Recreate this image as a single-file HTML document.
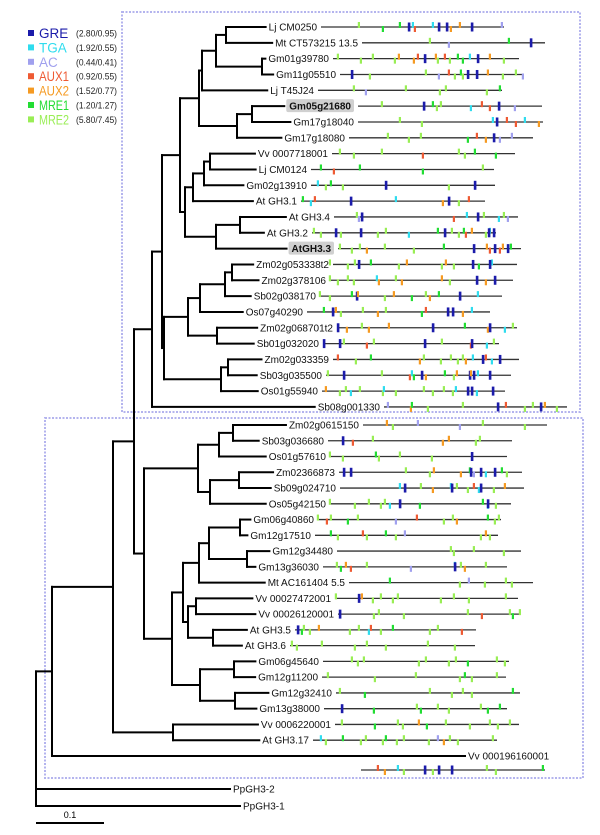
<!DOCTYPE html>
<html><head><meta charset="utf-8">
<style>
html,body{margin:0;padding:0;background:#fff;}
svg{display:block;font-family:"Liberation Sans",sans-serif;}
</style></head>
<body>
<svg id="fig" width="600" height="835" viewBox="0 0 600 835" xmlns="http://www.w3.org/2000/svg">
  <rect x="122" y="12" width="458" height="400" fill="none" stroke="#b4b4ee" stroke-width="2" stroke-dasharray="2,1.5"/>
  <rect x="45" y="418" width="538" height="360" fill="none" stroke="#b4b4ee" stroke-width="2" stroke-dasharray="2,1.5"/>
  <g id="legend"></g>
  <g id="tree"></g>
  <g id="genes"></g>
  <g id="labels"></g>
  <line x1="36" y1="823" x2="104" y2="823" stroke="#000" stroke-width="2"/>
  <text x="70" y="818" font-size="9" text-anchor="middle">0.1</text>
</svg>
<script>
const motifNames = ["GRE","TGA","AC","AUX1","AUX2","MRE1","MRE2"];
const motifKeys = ["G","T","A","X1","X2","M1","M2"];
const motifColors = ["#1b1baa","#2fdcee","#a0a0ee","#ee5a33","#f59a22","#22dd33","#99ee55"];
const motifStats = ["(2.80/0.95)","(1.92/0.55)","(0.44/0.41)","(0.92/0.55)","(1.52/0.77)","(1.20/1.27)","(5.80/7.45)"];

const leafNames = ["Lj CM0250","Mt CT573215 13.5","Gm01g39780","Gm11g05510","Lj T45J24","Gm05g21680","Gm17g18040","Gm17g18080","Vv 0007718001","Lj CM0124","Gm02g13910","At GH3.1","At GH3.4","At GH3.2","AtGH3.3","Zm02g053338t2","Zm02g378106","Sb02g038170","Os07g40290","Zm02g068701t2","Sb01g032020","Zm02g033359","Sb03g035500","Os01g55940","Sb08g001330",
"Zm02g0615150","Sb03g036680","Os01g57610","Zm02366873","Sb09g024710","Os05g42150","Gm06g40860","Gm12g17510","Gm12g34480","Gm13g36030","Mt AC161404 5.5","Vv 00027472001","Vv 00026120001","At GH3.5","At GH3.6","Gm06g45640","Gm12g11200","Gm12g32410","Gm13g38000","Vv 0006220001","At GH3.17","Vv 000196160001","PpGH3-2","PpGH3-1"];
const highlighted = [5,14];
const tipX = [270,280,270,276,274,288,288,288,262,258,248,255,285,262,262,258,264,255,254,254,252,265,260,256,318,
286,265,265,282,278,268,252,250,277,263,274,262,264,250,245,260,260,270,262,260,268,465,230,240];
const geneStart = [321,362,333,340,318,358,358,349,332,311,311,301,334,312,338,333,330,320,307,337,323,333,326,322,384,
363,328,330,339,340,330,318,315,337,323,349,335,338,295,290,323,322,336,324,335,313,361];
const geneEnd = [504,545,519,522,502,542,543,533,515,494,495,485,518,496,521,517,513,502,490,517,499,519,511,505,567,
547,512,507,522,524,511,501,498,521,507,533,518,520,476,475,509,506,520,507,519,497,545];
const motifs = [
"M2:359 M1:383 M1:400 G:409 T:413 X1:415 T:433 G:439 G:447 X2:451 X2:460 G:472 A:502",
"M2:430 A:449 M1:509 G:531",
"M2:338 M2:361 M2:373 M2:395 X2:399 X2:414 X1:418 G:425 X2:436 M2:438 X1:445 M2:450 M1:458 M1:463 T:470 G:478 X2:490 M2:504",
"G:352 M2:370 M2:426 A:439 X1:449 M2:455 M1:461 M2:463 G:468 G:477 X2:488 M2:503 M2:516 A:523",
"M2:354 A:366 M2:406 M2:440 M2:446 M2:487 M1:500",
"M2:382 G:424 M1:433 M2:437 M2:441 T:471 X1:482 X1:490 G:499 A:515",
"M2:400 M2:422 T:493 G:497 X1:507 X1:516 T:525 X2:539",
"M2:388 M2:409 M2:421 M1:468 X1:477 X2:486 G:494 A:500 A:512",
"M2:340 M2:354 M2:382 X1:423 M2:459 M2:465 M1:475 M1:496",
"M1:321 X1:334 M1:360 M1:423 M2:483",
"T:318 M2:326 M1:331 M2:343 G:386 M2:449 G:475",
"M1:303 T:311 X1:315 G:351 T:396 X2:443 G:449 M2:459 X1:469",
"M2:357 A:359 G:362 X1:454 T:467 G:478 M2:484 T:499 M2:504 A:508",
"M2:314 M2:321 G:336 M2:341 G:361 M2:378 M2:386 T:409 M1:438 G:445 M2:452 M2:459 M1:464 X1:466 X2:472 M2:486 T:490 G:489 G:494",
"M2:340 M2:352 M2:360 X2:367 M2:385 M2:414 M1:444 G:474 X2:487 X1:490 G:495 X1:500 X2:503 G:508 M1:511",
"M2:330 M2:348 M2:355 G:359 M1:371 M2:399 X2:407 M2:442 X2:446 M2:454 G:473 M1:479 T:492 G:490",
"M2:330 M2:338 M2:348 M2:354 T:377 X2:379 M2:396 X2:402 X2:442 M2:450 G:477 X2:486 G:495",
"M2:320 M2:330 M1:352 G:357 X2:358 M2:385 X2:394 M1:412 M2:426 X2:430 M1:439 G:460 T:478",
"M1:324 G:333 X2:336 M2:341 M2:363 X2:378 M2:386 M1:422 X1:426 G:448 G:453 X2:463 T:472",
"G:338 X2:347 M2:362 X2:369 X2:389 G:433 M1:465 X2:488 G:490 T:505 M2:513",
"G:324 G:340 M2:344 X1:367 M2:374 G:425 M2:442 X1:471 G:472 T:487 M2:494",
"X1:338 M2:356 M1:371 X2:420 M2:424 M2:441 M2:451 M2:458 M2:463 X2:466 T:473 G:483 X1:486 T:492 G:500",
"M2:328 G:344 M2:382 X1:410 T:412 M1:414 G:422 X2:426 M1:445 M2:454 X2:457 G:470 X2:471 G:474 T:478 G:490",
"X2:326 M2:340 M2:346 T:351 M2:360 M2:383 T:384 M2:396 M2:424 M2:433 M2:444 M2:453 T:456 G:468 G:472 T:477 G:493",
"A:388 X2:411 M1:412 M2:428 M2:463 G:498 X1:506 M2:525 M2:533 G:541 X2:545 M2:557",
"X2:387 M2:393 A:418 A:460 M2:483 M2:525",
"G:343 X1:353 M2:373 X2:443 X2:449 M2:476 M2:480",
"M2:330 M2:343 M1:376 M2:379 M2:400 M2:432 G:472",
"G:344 G:351 M2:406 M2:430 X2:434 X2:461 M1:470 A:474 G:471 T:486 G:481 G:495 M1:502 M2:507",
"T:400 G:405 M2:421 X2:433 T:451 G:452 M2:457 M2:468 X1:474 T:479 G:481 M2:494 X2:505",
"M2:330 M2:355 M2:369 M2:381 M2:385 T:390 G:400 M1:420 M1:483 T:488 G:488 M2:496",
"M2:318 X1:327 M2:331 M1:348 M2:358 A:396 X1:417 M2:444 M2:453 X2:457 M1:488 M2:495 M2:499",
"M1:331 M2:338 X1:363 M2:367 M1:386 M2:396 A:405 M2:481 X2:486 M2:490",
"M2:451 M2:454 M2:474 M2:504",
"M2:337 M1:341 X2:346 X1:351 M2:367 A:411 T:455 G:455 M2:461 X2:465 M2:486",
"M1:390 M2:460 A:469 M2:485 M2:506 M2:512",
"M2:336 G:359 X2:362 M2:373 M2:381 M2:393 M2:398 M2:441 M2:454 M2:469 M2:506",
"G:340 M2:374 M2:379 M2:404 M2:468 X1:482 M2:510 M1:513 M2:520",
"G:298 M1:302 M2:304 M2:310 X2:319 M2:350 M2:359 T:369 X1:371 M2:381 M1:393 M2:430 M2:438 X1:462",
"M2:292 M2:297 M2:322 M2:355 M2:367 M2:386 M2:428 M2:455",
"M2:352 M2:358 M2:364 M2:419 M2:426 M2:449 M2:456 M1:468 M2:497 M2:505",
"M2:328 M2:375 M2:416 M2:460 M1:465 M2:472 M2:497",
"M2:340 M1:365 M2:430 M2:452 M2:463 M2:472 M1:513",
"G:342 M1:374 M2:417 M1:421 M2:438 M2:449 M2:481 M1:488 M1:500",
"M2:342 M1:375 M2:398 M2:403 X2:419 M1:427 M2:446 M2:470 M2:490 M2:498 M2:510",
"T:321 M2:326 M1:343 M2:361 M2:366 M2:383 M1:386 M2:397 M2:404 M2:429 A:438 X2:444 M2:450 M2:458 M2:493",
"X1:378 X2:385 T:398 M2:404 G:425 M2:433 G:439 G:452 M2:487 M2:496 M1:543"
];
const tree = [36,
  [52,
    [113,
      [134,
        [152,
          [162,
            [180,
              [199, [202, [216, [226,0,1], [262,2,3]], 4], [237, [252,5,6], 7]],
              [185, [193, [204, [210,8,9], 10], 11], [216, [240,12,13], 14]]
            ],
            [164,
              [188, [200, [225, [232,15,16], 17], 18], [217,19,20]],
              [221, [228,21,22], 23]
            ]
          ],
          24
        ],
        [144,
          [198, [219, [233,25,26], 27], [210, [239,28,29], 30]],
          [172,
            [183,
              [199, [209, [240,31,32], [247,33,34]], 35],
              [188, [196,36,37], [213,38,39]]
            ],
            [200, [234,40,41], [235,42,43]]
          ]
        ]
      ],
      [173,44,45]
    ],
    46
  ],
  47, 48
];

const NS = "http://www.w3.org/2000/svg";
function mk(tag, attrs, parent){ const e=document.createElementNS(NS,tag); for(const k in attrs) e.setAttribute(k,attrs[k]); parent.appendChild(e); return e; }
function leafY(i){ if(i<=24) return 27+15.83*i; if(i<=46) return 425+15.76*(i-25); return i===47?789:806; }

const lg = document.getElementById('legend');
motifNames.forEach((n,i)=>{
  const y = 33 + 14.4*i;
  const sq = mk('rect',{x:28,y:y-3,width:6,height:6,fill:motifColors[i]},lg);
  
  
  const attrs = {x:39,y:y+5,'font-size':'13.5',fill:motifColors[i]};
  if(n.length>=4){ attrs.textLength = 30; attrs.lengthAdjust = 'spacingAndGlyphs'; }
  const t = mk('text',attrs,lg);
  t.textContent = n;
  
  
  const s = mk('text',{x:76,y:y+3.5,'font-size':'9',fill:'#222',textLength:41,lengthAdjust:'spacingAndGlyphs'},lg);
  s.textContent = motifStats[i];
  
  
});

const lb = document.getElementById('labels');
const labelStart = [];
leafNames.forEach((n,i)=>{
  const y = leafY(i);
  const bold = highlighted.includes(i);
  let t;
  if(i<46){
    const endX = geneStart[i] - (bold?7:4);
    t = mk('text',{x:endX,y:y+3.5,'font-size':'10','font-weight':bold?'bold':'normal',fill:'#111','text-anchor':'end'},lb);
  } else {
    t = mk('text',{x:tipX[i]+3,y:y+3.5,'font-size':'10',fill:'#111'},lb);
  }
  t.textContent = n;
  
  
  const w = t.getComputedTextLength();
  const sx = i<46 ? (geneStart[i] - (bold?7:4) - w) : tipX[i]+3;
  labelStart.push(sx);
  if(bold){
    const r = mk('rect',{x:sx-3,y:y-7,width:w+6,height:13,fill:'#d0d0d0',rx:2},lb);
    
    
    lb.insertBefore(r,t);
  }
});

const tg = document.getElementById('tree');
function line(x1,y1,x2,y2,name){
  const l = mk('line',{x1,y1,x2,y2,stroke:'#000','stroke-width':2,'stroke-linecap':'square'},tg);
  
  
}
function layout(node){
  if(typeof node==='number'){
    const bold = highlighted.includes(node);
    return {x:labelStart[node]-(bold?5:3), y:leafY(node)};
  }
  const x = node[0];
  const kids = node.slice(1).map(layout);
  const ys = kids.map(k=>k.y);
  const y = (Math.min(...ys)+Math.max(...ys))/2;
  line(x,Math.min(...ys),x,Math.max(...ys),'internal-node-branch');
  kids.forEach(k=>line(x,k.y,k.x,k.y,'child-branch'));
  return {x:x,y:y};
}
layout(tree);

const gg = document.getElementById('genes');
geneStart.forEach((s,i)=>{
  const y = i===46 ? 770 : leafY(i);
  const l = mk('line',{x1:s,y1:y,x2:geneEnd[i],y2:y,stroke:'#333','stroke-width':1.3},gg);
  
  
  motifs[i].split(' ').forEach((tok,j)=>{
    const p = tok.split(':');
    const k = motifKeys.indexOf(p[0]);
    const x = +p[1];
    const isG = k===0;
    const h = isG?9:6;
    const up = isG ? -4.5 : (j%2===0 ? -5 : -1);
    const r = mk('rect',{x:x-1.2,y:y+up,width:isG?2.6:2.2,height:h,fill:motifColors[k]},gg);
    
    
  });
});
</script>
</body></html>
